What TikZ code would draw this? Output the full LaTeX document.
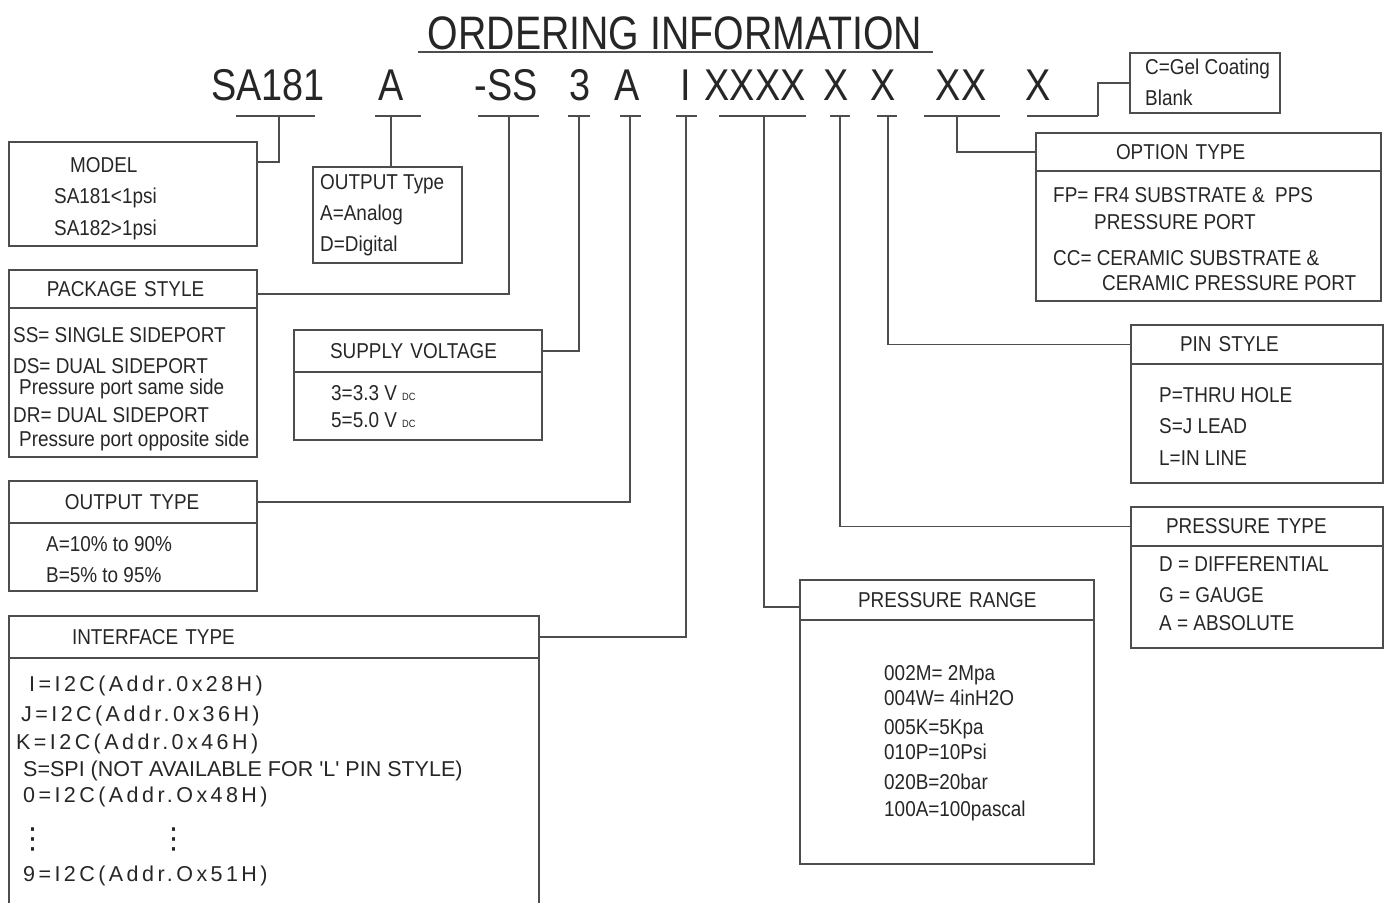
\documentclass[tikz,border=0pt]{standalone}
\usepackage{fontspec}
\setmainfont{Liberation Sans}[FakeStretch=0.88]
\newfontfamily\titlefont{Liberation Sans}[FakeStretch=0.835]
\newfontfamily\codefont{Liberation Sans}[FakeStretch=0.85]
\newfontfamily\addrfont{Liberation Sans}[LetterSpace=16]
\newfontfamily\widefont{Liberation Sans}
\newfontfamily\symfont{DejaVu Sans}
\usetikzlibrary{positioning}
\definecolor{ink}{HTML}{262626}
\definecolor{rule}{HTML}{4D4D4D}
\newcommand{\boxsize}{\fontsize{21.5}{26}\selectfont}
\newcommand{\dcsub}{{\fontsize{10.5}{10}\selectfont DC}}

\tikzset{
  wire/.style={draw=rule, line width=1.3pt},
  frame/.style={draw=rule, line width=1.3pt, inner sep=0pt, outer sep=0pt, anchor=north west},
  head/.style={frame, align=left, font=\boxsize, text=ink},
  txt/.style={anchor=base west, inner sep=0pt, font=\boxsize, text=ink},
  code/.style={anchor=base, inner sep=0pt, font=\codefont\fontsize{44.5}{50}\selectfont, text=ink},
  vdots/.style={anchor=base, inner sep=0pt, text=ink, font=\symfont\fontsize{29}{30}\selectfont},
}

\begin{document}
\begin{tikzpicture}[x=1pt, y=-1pt]
  \useasboundingbox (0,0) rectangle (1389,902);

  % title and part number
  \node[anchor=base, inner sep=0pt, text=ink, font=\titlefont\fontsize{47}{52}\selectfont] (title) at (675,49) {ORDERING INFORMATION};
  \draw[wire] (418,52) -- (933,52);

  \foreach \n/\x/\t in {cSA/268/SA181, cA/391/A, cSS/506/-SS, c3/580/3, cA2/627/A, cI/686/I,
                        cP/755/XXXX, cT/836/X, cS/883/X, cO/961/XX, cG/1038/X}
    \node[code] (\n) at (\x,100) {\t};

  \foreach \n/\l/\r/\m in {tSA/236/315/279, tA/375/421/391, tSS/478/539/509, t3/568/590/579,
                           tA2/620/641/630, tI/676/697/686, tP/719/806/764, tT/830/850/840,
                           tS/877/897/888, tO/924/1000/957, tG/1027/1098/1098} {
    \draw[wire] (\l,116) -- (\r,116);
    \coordinate (\n) at (\m,116);
  }

  % left column
  \node[frame, minimum width=248pt, minimum height=104pt] (model) at (9,142) {};
  \node[txt] (model1) at (70,172) {MODEL};
  \node[txt] (model2) at (54,203) {SA181<1psi};
  \node[txt] (model3) at (54,235) {SA182>1psi};

  \node[frame, minimum width=149pt, minimum height=96pt] (outsm) at (313,167) {};
  \foreach \y/\t [count=\i] in {189/OUTPUT Type, 220/A=Analog, 251/D=Digital}
    \node[txt] (outsm\i) at (320,\y) {\t};

  \node[head, text width=248pt, minimum height=38pt] (pkgH) at (9,270) {\hspace*{38pt}PACKAGE STYLE};
  \node[frame, minimum width=248pt, minimum height=149pt, below=0pt of pkgH] (pkg) {};
  \foreach \x/\y/\t [count=\i] in {13/342/SS= SINGLE SIDEPORT, 13/373/DS= DUAL SIDEPORT,
                                   19/394/Pressure port same side, 13/422/DR= DUAL SIDEPORT,
                                   19/446/Pressure port opposite side}
    \node[txt] (pkg\i) at (\x,\y) {\t};

  \node[head, text width=248pt, minimum height=42pt] (supH) at (294,330) {\hspace*{36pt}SUPPLY VOLTAGE};
  \node[frame, minimum width=248pt, minimum height=68pt, below=0pt of supH] (sup) {};
  \node[txt] (sup1) at (331,400) {3=3.3 V \dcsub};
  \node[txt] (sup2) at (331,427) {5=5.0 V \dcsub};

  \node[head, text width=248pt, minimum height=42pt] (outH) at (9,481) {\hspace*{56pt}OUTPUT TYPE};
  \node[frame, minimum width=248pt, minimum height=68pt, below=0pt of outH] (out) {};
  \node[txt] (out1) at (46,551) {A=10\% to 90\%};
  \node[txt] (out2) at (46,582) {B=5\% to 95\%};

  \node[head, text width=530pt, minimum height=42pt] (ifH) at (9,616) {\hspace*{63pt}INTERFACE TYPE};
  \node[frame, minimum width=530pt, minimum height=260pt, below=0pt of ifH] (if) {};
  \node[txt, font=\addrfont\boxsize] (if1) at (29,691) {I=I2C(Addr.0x28H)};
  \node[txt, font=\addrfont\boxsize] (if2) at (21,721) {J=I2C(Addr.0x36H)};
  \node[txt, font=\addrfont\boxsize] (if3) at (16,749) {K=I2C(Addr.0x46H)};
  \node[txt, font=\widefont\boxsize] (if4) at (23,776) {S=SPI (NOT AVAILABLE FOR \textquotesingle L\textquotesingle{} PIN STYLE)};
  \node[txt, font=\addrfont\boxsize] (if5) at (23,802) {0=I2C(Addr.Ox48H)};
  \node[vdots] (dotA) at (33,848) {⋮};
  \node[vdots] (dotB) at (174,848) {⋮};
  \node[txt, font=\addrfont\boxsize] (if6) at (23,881) {9=I2C(Addr.Ox51H)};

  % right column
  \node[frame, minimum width=150pt, minimum height=60pt] (gel) at (1130,53) {};
  \node[txt] (gel1) at (1145,74) {C=Gel Coating};
  \node[txt] (gel2) at (1145,105) {Blank};

  \node[head, text width=345pt, minimum height=38pt] (optH) at (1036,133) {\hspace*{80pt}OPTION TYPE};
  \node[frame, minimum width=345pt, minimum height=130pt, below=0pt of optH] (opt) {};
  \foreach \x/\y/\t [count=\i] in {1053/202/FP= FR4 SUBSTRATE \&\ \ PPS, 1094/229/PRESSURE PORT,
                                   1053/265/CC= CERAMIC SUBSTRATE \&, 1102/290/CERAMIC PRESSURE PORT}
    \node[txt] (opt\i) at (\x,\y) {\t};

  \node[head, text width=252pt, minimum height=39pt] (pinH) at (1131,325) {\hspace*{49pt}PIN STYLE};
  \node[frame, minimum width=252pt, minimum height=119pt, below=0pt of pinH] (pin) {};
  \foreach \y/\t [count=\i] in {402/P=THRU HOLE, 433/S=J LEAD, 465/L=IN LINE}
    \node[txt] (pin\i) at (1159,\y) {\t};

  \node[head, text width=252pt, minimum height=39pt] (ptH) at (1131,507) {\hspace*{35pt}PRESSURE TYPE};
  \node[frame, minimum width=252pt, minimum height=102pt, below=0pt of ptH] (pt) {};
  \foreach \y/\t [count=\i] in {571/D = DIFFERENTIAL, 602/G = GAUGE, 630/A = ABSOLUTE}
    \node[txt] (pt\i) at (1159,\y) {\t};

  \node[head, text width=294pt, minimum height=40pt] (prH) at (800,580) {\hspace*{58pt}PRESSURE RANGE};
  \node[frame, minimum width=294pt, minimum height=244pt, below=0pt of prH] (pr) {};
  \foreach \y/\t [count=\i] in {680/002M= 2Mpa, 705/004W= 4inH2O, 734/005K=5Kpa,
                                759/010P=10Psi, 789/020B=20bar, 816/100A=100pascal}
    \node[txt] (pr\i) at (884,\y) {\t};

  % connectors
  \draw[wire] (tSA) |- ([yshift=-20pt]model.north east);
  \draw[wire] (tA) -- (tA |- outsm.north);
  \draw[wire] (tSS) |- ([yshift=-5pt]pkgH.east);
  \draw[wire] (t3) |- (supH.east);
  \draw[wire] (tA2) |- (outH.east);
  \draw[wire] (tI) |- (ifH.east);
  \draw[wire] (tP) |- ([yshift=-7pt]prH.west);
  \draw[wire] (tT) |- (ptH.west);
  \draw[wire] (tS) |- (pinH.west);
  \draw[wire] (tO) |- (optH.west);
  \draw[wire] (tG) |- (gel.west);
\end{tikzpicture}
\end{document}
